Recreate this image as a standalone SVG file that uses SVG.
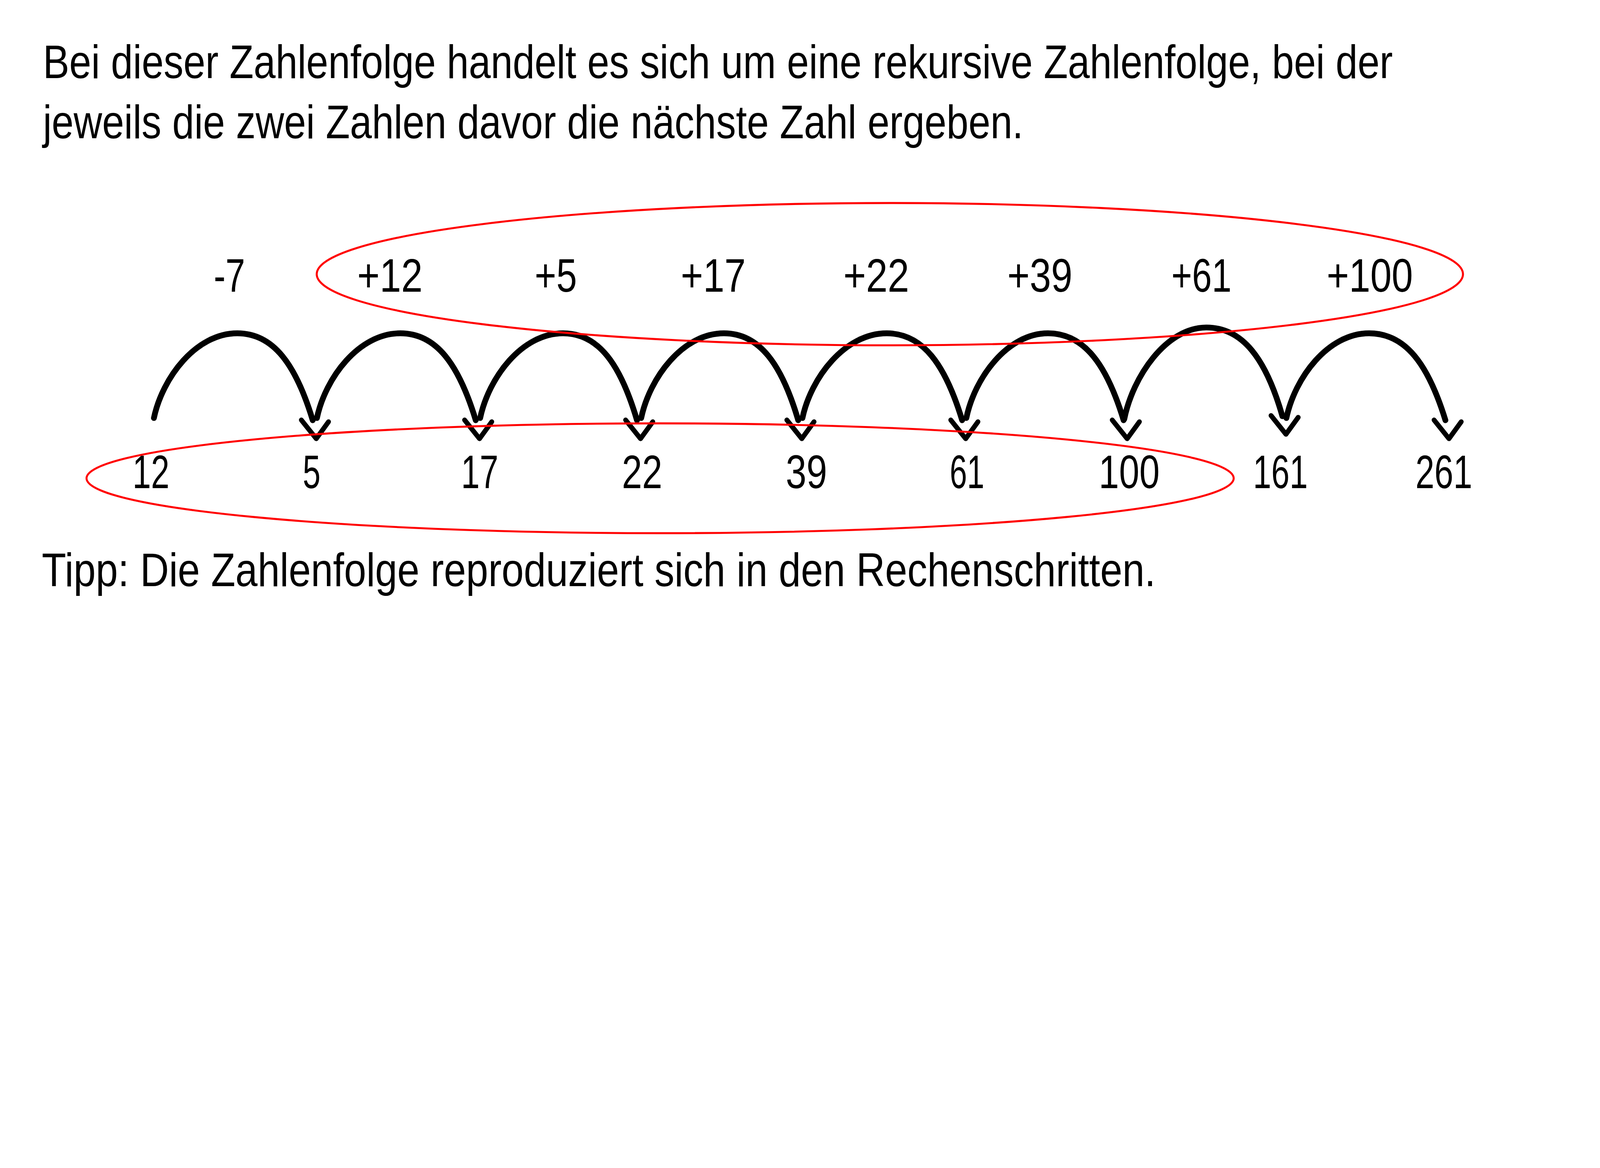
<svg xmlns="http://www.w3.org/2000/svg" xmlns:xlink="http://www.w3.org/1999/xlink" width="7194" height="2991" viewBox="0 0 7194 2991" style="max-width:100vw;height:auto">
<style>
text{font-family:"Liberation Sans","DejaVu Sans",Arial,sans-serif;font-size:212px;fill:#000}
.arc{fill:none;stroke:#000;stroke-width:26;stroke-linecap:round;stroke-linejoin:round}
.ring{fill:none;stroke:#ff0000;stroke-width:9}
</style>
<defs>
<path id="ah" d="M -67,-84 L 0,0 L 55,-76" fill="none" stroke="#000" stroke-width="22" stroke-linecap="round" stroke-linejoin="round"/>
</defs>
<rect width="7194" height="2991" fill="#fff"/>

<g id="intro">
<text x="193" y="351" textLength="6069" lengthAdjust="spacingAndGlyphs">Bei dieser Zahlenfolge handelt es sich um eine rekursive Zahlenfolge, bei der</text>
<text x="193" y="622" textLength="4408" lengthAdjust="spacingAndGlyphs">jeweils die zwei Zahlen davor die nächste Zahl ergeben.</text>
</g>

<g id="steps">
<g id="step-m7"><text x="961" y="1312" textLength="141" lengthAdjust="spacingAndGlyphs">-7</text></g>
<g id="step-p12"><text x="1606" y="1312" textLength="294" lengthAdjust="spacingAndGlyphs">+12</text></g>
<g id="step-p5"><text x="2404" y="1312" textLength="190" lengthAdjust="spacingAndGlyphs">+5</text></g>
<g id="step-p17"><text x="3061" y="1312" textLength="292" lengthAdjust="spacingAndGlyphs">+17</text></g>
<g id="step-p22"><text x="3792" y="1312" textLength="296" lengthAdjust="spacingAndGlyphs">+22</text></g>
<g id="step-p39"><text x="4529" y="1312" textLength="293" lengthAdjust="spacingAndGlyphs">+39</text></g>
<g id="step-p61"><text x="5267" y="1312" textLength="270" lengthAdjust="spacingAndGlyphs">+61</text></g>
<g id="step-p100"><text x="5965" y="1312" textLength="388" lengthAdjust="spacingAndGlyphs">+100</text></g>
</g>

<g id="numbers">
<g id="n12"><text x="596" y="2196" textLength="166" lengthAdjust="spacingAndGlyphs">12</text></g>
<g id="n5"><text x="1361" y="2196" textLength="80" lengthAdjust="spacingAndGlyphs">5</text></g>
<g id="n17"><text x="2073" y="2196" textLength="168" lengthAdjust="spacingAndGlyphs">17</text></g>
<g id="n22"><text x="2796" y="2196" textLength="182" lengthAdjust="spacingAndGlyphs">22</text></g>
<g id="n39"><text x="3533" y="2196" textLength="186" lengthAdjust="spacingAndGlyphs">39</text></g>
<g id="n61"><text x="4270" y="2196" textLength="156" lengthAdjust="spacingAndGlyphs">61</text></g>
<g id="n100"><text x="4940" y="2196" textLength="274" lengthAdjust="spacingAndGlyphs">100</text></g>
<g id="n161"><text x="5634" y="2196" textLength="246" lengthAdjust="spacingAndGlyphs">161</text></g>
<g id="n261"><text x="6364" y="2196" textLength="256" lengthAdjust="spacingAndGlyphs">261</text></g>
</g>

<g id="connectors">
<path class="arc" d="M 692,1880 c 38,-180 188,-381 375,-381 c 163,0 263,141 339,391"/>
<path class="arc" d="M 1425,1880 c 38,-180 188,-381 375,-381 c 163,0 263,141 339,391"/>
<path class="arc" d="M 2159,1880 c 38,-180 186,-381 373,-381 c 160,0 258,141 332,391"/>
<path class="arc" d="M 2883,1880 c 38,-180 186,-381 372,-381 c 161,0 260,141 334,391"/>
<path class="arc" d="M 3608,1880 c 38,-180 190,-381 379,-381 c 163,0 263,141 339,391"/>
<path class="arc" d="M 4345,1880 c 37,-180 184,-381 367,-381 c 163,0 264,141 340,391"/>
<path class="arc" d="M 5055,1885 c 38,-190 188,-412 369,-412 c 163,0 268,140 342,399"/>
<path class="arc" d="M 5784,1880 c 38,-180 186,-381 372,-381 c 165,0 266,141 343,391"/>
<use xlink:href="#ah" x="1422" y="1973"/>
<use xlink:href="#ah" x="2156" y="1973"/>
<use xlink:href="#ah" x="2880" y="1973"/>
<use xlink:href="#ah" x="3605" y="1973"/>
<use xlink:href="#ah" x="4342" y="1973"/>
<use xlink:href="#ah" x="5068" y="1973"/>
<use xlink:href="#ah" x="5782" y="1953"/>
<use xlink:href="#ah" x="6515" y="1973"/>
</g>

<g id="highlights">
<ellipse class="ring" cx="4001" cy="1233" rx="2577" ry="320"/>
<ellipse class="ring" cx="2968" cy="2151" rx="2579" ry="247"/>
</g>

<g id="tip">
<text x="188" y="2636" textLength="5008" lengthAdjust="spacingAndGlyphs">Tipp: Die Zahlenfolge reproduziert sich in den Rechenschritten.</text>
</g>
</svg>
